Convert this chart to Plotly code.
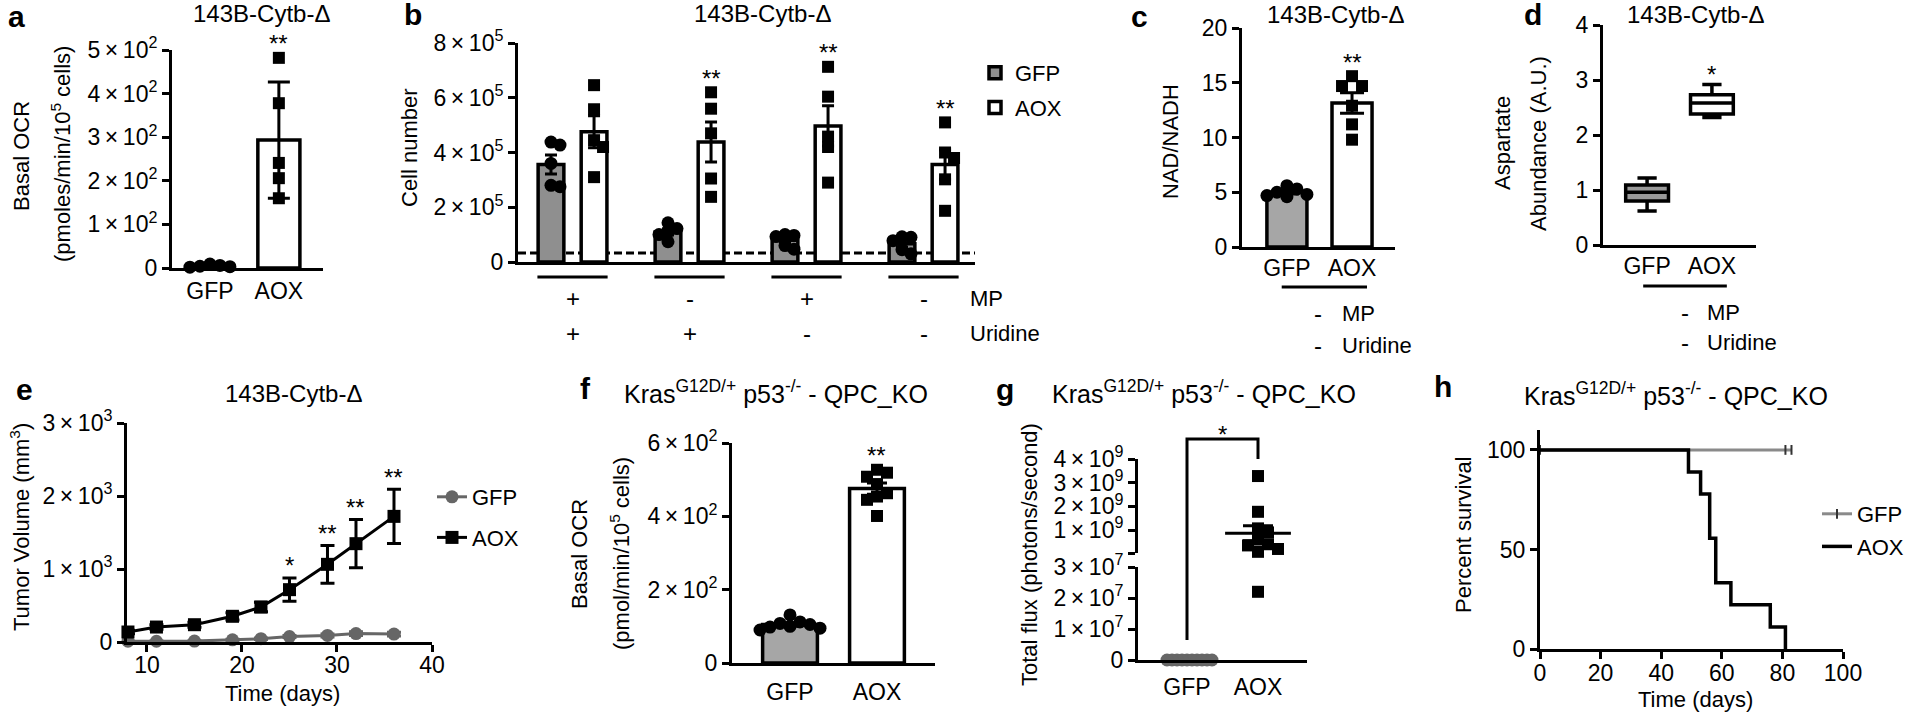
import plotly.graph_objects as go

W, H = 1920, 713
FONT = "Liberation Sans, Arial, Helvetica, sans-serif"
INK = "black"

# ---------------- data ----------------
# a: basal OCR 143B-Cytb-delta (pmoles/min/10^5 cells), mean +/- SD
a_gfp = [9, 6, 4, 3, 2]
a_aox = [482, 378, 241, 206, 160]

# b: cell number (x10^5), mean +/- SEM
b_mp = ["+", "-", "+", "-"]
b_uridine = ["+", "+", "-", "-"]
b_gfp = [[4.38, 4.27, 3.6, 2.8, 2.75],
         [1.43, 1.22, 1.1, 1.0, 0.74],
         [1.0, 0.97, 0.93, 0.6, 0.47],
         [0.92, 0.9, 0.78, 0.45, 0.3]]
b_aox = [[6.46, 5.58, 4.45, 4.2, 3.1],
         [6.2, 5.6, 4.7, 3.05, 2.38],
         [7.13, 6.04, 4.58, 4.2, 2.9],
         [5.1, 4.0, 3.8, 3.02, 1.87]]
b_sig = ["", "**", "**", "**"]
b_seeded = 0.33  # x10^5, dashed line

# c: NAD/NADH
c_gfp = [5.6, 5.3, 5.0, 4.8, 4.7, 4.6]
c_aox = [15.6, 14.7, 14.7, 12.9, 11.2, 9.8]

# d: aspartate abundance, box = (min, q1, median, q3, max)
d_gfp = [0.62, 0.80, 0.96, 1.09, 1.22]
d_aox = [2.32, 2.38, 2.58, 2.73, 2.92]

# e: tumour volume (mm3)
e_days = [8, 11, 15, 19, 22, 25, 29, 32, 36]
e_gfp = [10, 10, 12, 30, 45, 75, 90, 115, 108]
e_gfp_err = [4, 4, 5, 8, 10, 14, 20, 25, 25]
e_aox = [137, 205, 237, 352, 479, 717, 1064, 1347, 1721]
e_aox_err = [25, 30, 35, 50, 65, 160, 258, 330, 372]
e_sig = ["", "", "", "", "", "*", "**", "**", "**"]

# f: basal OCR Kras/p53 QPC_KO (pmol/min/10^5 cells)
f_gfp = [131, 112, 108, 105, 100, 98, 95, 90]
f_aox = [527, 519, 508, 488, 463, 454, 445, 401]

# g: total flux (photons/second)
g_gfp = [0, 0, 0, 0, 0, 0, 0, 0, 0, 0]
g_aox = [3.28e9, 1.77e9, 1.07e9, 0.9e9, 0.6e9, 0.4e9, 0.35e9, 0.2e9, 0.08e9, 2.2e7]
g_break = 3e7

# h: survival
h_gfp_t = [0, 81, 83]
h_gfp_s = [100, 100, 100]
h_aox_t = [0, 49, 53, 56, 58, 63, 76, 81]
h_aox_s = [100, 88.9, 77.8, 55.6, 33.3, 22.2, 11.1, 0]

TITLE_A = "143B-Cytb-\u0394"
TITLE_K = "Kras<sup>G12D/+</sup> p53<sup>-/-</sup> - QPC_KO"

TICK = 23
LAB = 22


def px(x):
    return x / W


def py(y):
    return 1 - y / H


def sci(v, e):
    m = v / 10 ** e
    return "0" if v == 0 else f"{m:g}\u2009\u00d7\u200910<sup>{e}</sup>"


def mean(v):
    return sum(v) / len(v)


def spread(v, sd=False):
    m = mean(v)
    s = (sum((x - m) ** 2 for x in v) / (len(v) - 1)) ** 0.5
    return s if sd else s / len(v) ** 0.5


def swarm(vals, ypu, xpu, gap=10.0):
    # horizontal offsets so that markers with close values sit side by side
    placed, offs = [], []
    for v in vals:
        for k in [0, 1, -1, 2, -2, 3, -3, 4, -4, 5, -5, 6, -6]:
            o = k * gap
            if all(abs((v - pv) * ypu) >= gap or abs(o - po) >= gap - 1e-9 for pv, po in placed):
                break
        placed.append((v, o))
        offs.append(o / xpu)
    return offs


fig = go.Figure()
panels = {}
annots = []
shapes = []


def add_axes(key, n, xpx, ypx, xr, yr, xkw=None, ykw=None):
    xn = "x" if n == 1 else f"x{n}"
    yn = "y" if n == 1 else f"y{n}"
    base = dict(showline=True, linecolor=INK, linewidth=3, showgrid=False, zeroline=False,
                ticks="outside", ticklen=7, tickwidth=3, tickcolor=INK, automargin=False,
                tickfont=dict(family=FONT, size=TICK, color=INK), fixedrange=True)
    xa = dict(base, domain=[px(xpx[0]), px(xpx[1])], range=list(xr), anchor=yn)
    ya = dict(base, domain=[py(ypx[1]), py(ypx[0])], range=list(yr), anchor=xn)
    xa.update(xkw or {})
    ya.update(ykw or {})
    fig.update_layout(**{"xaxis" + ("" if n == 1 else str(n)): xa,
                         "yaxis" + ("" if n == 1 else str(n)): ya})
    panels[key] = dict(x=xn, y=yn, xpu=(xpx[1] - xpx[0]) / (xr[1] - xr[0]),
                       ypu=(ypx[1] - ypx[0]) / (yr[1] - yr[0]))


def cat_x(labels=("GFP", "AOX"), standoff=0):
    if labels is None:
        return dict(ticks="", showticklabels=False)
    return dict(ticks="", tickvals=list(range(len(labels))), ticktext=list(labels),
                ticklabelstandoff=standoff)


def sci_y(vals, e):
    return dict(tickvals=vals, ticktext=[sci(v, e) for v in vals])


def bar_points(key, xpos, pts, fill, symbol, width, sd=False, errw=8, name=None,
               legend=None, psize=12, gap=10):
    p = panels[key]
    fig.add_trace(go.Bar(
        x=[xpos], y=[mean(pts)], width=width, name=name or "", showlegend=name is not None,
        legend=legend, legendgroup=(key + (name or "")),
        marker=dict(color=fill, line=dict(color=INK, width=3.5)),
        error_y=dict(type="data", array=[spread(pts, sd)], color=INK, thickness=3, width=errw),
        xaxis=p["x"], yaxis=p["y"]))
    offs = swarm(pts, p["ypu"], p["xpu"], gap)
    fig.add_trace(go.Scatter(
        x=[xpos + o for o in offs], y=pts, mode="markers", showlegend=False, cliponaxis=False,
        marker=dict(symbol=symbol, size=psize, color=INK),
        xaxis=p["x"], yaxis=p["y"]))


def text(x, y, s, size=LAB, xref="paper", yref="paper", xanchor="center", yanchor="middle",
         angle=0, yshift=0, bold=False):
    # x / y given in window pixels when the reference is "paper"
    if xref == "paper":
        x = px(x)
    if yref == "paper":
        y = py(y)
    annots.append(dict(x=x, y=y, xref=xref, yref=yref, text=f"<b>{s}</b>" if bold else s,
                       showarrow=False, xanchor=xanchor, yanchor=yanchor, textangle=angle,
                       yshift=yshift, font=dict(family=FONT, size=size, color=INK)))


def star(key, x, y, s, yshift=14):
    p = panels[key]
    text(x, y, s, size=24, xref=p["x"], yref=p["y"], yshift=yshift)


def hline(key, x0, x1, ypx):
    shapes.append(dict(type="line", xref=panels[key]["x"], yref="paper", x0=x0, x1=x1,
                       y0=py(ypx), y1=py(ypx), line=dict(color=INK, width=3)))


# ---------------- axes ----------------
add_axes("a", 1, (172, 323), (50, 268), (-0.55, 1.64), (0, 500),
         cat_x(standoff=0), sci_y([0, 100, 200, 300, 400, 500], 2))
add_axes("b", 2, (518, 975), (43, 262), (-0.466, 3.44), (0, 8e5),
         cat_x(None), sci_y([0, 2e5, 4e5, 6e5, 8e5], 5))
add_axes("c", 3, (1242, 1395), (28, 247), (-0.69, 1.66), (0, 20),
         cat_x(standoff=-2), dict(tickvals=[0, 5, 10, 15, 20]))
add_axes("d", 4, (1603, 1756), (25, 245), (-0.68, 1.68), (0, 4),
         cat_x(standoff=-2), dict(tickvals=[0, 1, 2, 3, 4]))
add_axes("e", 5, (127, 432), (423, 642), (7.9, 40), (0, 3000),
         dict(tickvals=[10, 20, 30, 40], ticklabelstandoff=-7), sci_y([0, 1000, 2000, 3000], 3))
add_axes("f", 6, (732, 935), (443, 663), (-0.667, 1.667), (0, 600),
         cat_x(standoff=6), sci_y([0, 200, 400, 600], 2))
add_axes("gl", 7, (1138, 1307), (567, 660), (-0.69, 1.69), (0, g_break),
         cat_x(standoff=4), sci_y([0, 1e7, 2e7, 3e7], 7))
add_axes("gu", 8, (1138, 1307), (459, 553), (-0.69, 1.69), (g_break, 4e9),
         dict(visible=False, matches="x7"),
         dict(tickvals=[g_break, 1e9, 2e9, 3e9, 4e9],
              ticktext=[""] + [sci(v, 9) for v in [1e9, 2e9, 3e9, 4e9]]))
add_axes("h", 9, (1540, 1843), (430, 649), (0, 100), (0, 110),
         dict(tickvals=[0, 20, 40, 60, 80, 100], ticklabelstandoff=-6), dict(tickvals=[0, 50, 100]))

GREY_B = "#8f8f8f"
GREY_C = "#a6a6a6"

# ---------------- a ----------------
bar_points("a", 0, a_gfp, "white", "circle", 0.61, sd=True, errw=11, psize=13)
bar_points("a", 1, a_aox, "white", "square", 0.61, sd=True, errw=11)
star("a", 1, max(a_aox), "**")

# ---------------- b ----------------
off = 0.184
for g in range(4):
    bar_points("b", g - off, [v * 1e5 for v in b_gfp[g]], GREY_B, "circle", 0.22, errw=6,
               name="GFP" if g == 0 else None, legend="legend3", psize=13, gap=9)
    bar_points("b", g + off, [v * 1e5 for v in b_aox[g]], "white", "square", 0.22, errw=6,
               name="AOX" if g == 0 else None, legend="legend3", gap=9)
    if b_sig[g]:
        star("b", g + off, max(b_aox[g]) * 1e5, b_sig[g])
    hline("b", g - 0.3, g + 0.3, 277)
    text(g, 298, b_mp[g], size=24, xref="x2")
    text(g, 333, b_uridine[g], size=24, xref="x2")
shapes.append(dict(type="line", xref="x2 domain", yref="y2", x0=0, x1=1,
                   y0=b_seeded * 1e5, y1=b_seeded * 1e5, layer="below",
                   line=dict(color=INK, width=3, dash="8px,4px")))
text(968, 298, "MP", xanchor="left")
text(968, 333, "Uridine", xanchor="left")

# ---------------- c ----------------
bar_points("c", 0, c_gfp, GREY_C, "circle", 0.615, errw=12, psize=13)
bar_points("c", 1, c_aox, "white", "square", 0.615, errw=12)
star("c", 1, max(c_aox), "**")
hline("c", -0.08, 1.23, 287)
text(1318, 313, "-", size=24)
text(1340, 313, "MP", xanchor="left")
text(1318, 345, "-", size=24)
text(1340, 345, "Uridine", xanchor="left")

# ---------------- d ----------------
for i, (q, fill) in enumerate([(d_gfp, "#999999"), (d_aox, "white")]):
    fig.add_trace(go.Box(
        x=[i], lowerfence=[q[0]], q1=[q[1]], median=[q[2]], q3=[q[3]], upperfence=[q[4]],
        width=0.66, whiskerwidth=0.45, fillcolor=fill, line=dict(color=INK, width=3.5),
        boxpoints=False, showlegend=False, xaxis="x4", yaxis="y4"))
star("d", 1, d_aox[4], "*", yshift=10)
hline("d", -0.06, 1.23, 286)
text(1685, 312, "-", size=24)
text(1705, 312, "MP", xanchor="left")
text(1685, 343, "-", size=24)
text(1705, 343, "Uridine", xanchor="left")

# ---------------- e ----------------
for name, vals, err, col, sym in [("GFP", e_gfp, e_gfp_err, "#666666", "circle"),
                                  ("AOX", e_aox, e_aox_err, INK, "square")]:
    fig.add_trace(go.Scatter(
        x=e_days, y=vals, name=name, mode="lines+markers", legend="legend", legendgroup="e" + name,
        line=dict(color=col, width=3), marker=dict(symbol=sym, size=13, color=col),
        error_y=dict(type="data", array=err, color=col, thickness=3, width=7),
        cliponaxis=False, xaxis="x5", yaxis="y5"))
for d, v, e, s in zip(e_days, e_aox, e_aox_err, e_sig):
    if s:
        star("e", d, v + e, s, yshift=12)

# ---------------- f ----------------
bar_points("f", 0, f_gfp, GREY_C, "circle", 0.63, errw=10, psize=13)
bar_points("f", 1, f_aox, "white", "square", 0.63, errw=10)
star("f", 1, max(f_aox), "**")

# ---------------- g ----------------
pu, pl = panels["gu"], panels["gl"]
offs = swarm(g_gfp, pl["ypu"], pl["xpu"], 5)
fig.add_trace(go.Scatter(x=offs, y=g_gfp, mode="markers", showlegend=False, cliponaxis=False,
                         marker=dict(symbol="circle", size=13, color="#666666"),
                         xaxis="x7", yaxis="y7"))
hi = [v for v in g_aox if v >= g_break]
lo = [v for v in g_aox if v < g_break]
oh = swarm(hi, pu["ypu"], pu["xpu"], 10)
ol = swarm(lo, pl["ypu"], pl["xpu"], 10)
fig.add_trace(go.Scatter(x=[1 + o for o in oh], y=hi, mode="markers", showlegend=False,
                         cliponaxis=False, marker=dict(symbol="square", size=12, color=INK),
                         xaxis="x8", yaxis="y8"))
fig.add_trace(go.Scatter(x=[1 + o for o in ol], y=lo, mode="markers", showlegend=False,
                         cliponaxis=False, marker=dict(symbol="square", size=12, color=INK),
                         xaxis="x7", yaxis="y7"))
fig.add_trace(go.Scatter(x=[1], y=[mean(g_aox)], mode="markers", showlegend=False, cliponaxis=False,
                         marker=dict(symbol="line-ew", size=47, line=dict(color=INK, width=3)),
                         error_y=dict(type="data", array=[spread(g_aox)], color=INK, thickness=3,
                                      width=15),
                         xaxis="x8", yaxis="y8"))
shapes.append(dict(type="path", xref="x8", yref="paper",
                   path=f"M 0,{py(640)} L 0,{py(439)} L 1,{py(439)} L 1,{py(459)}",
                   line=dict(color=INK, width=3)))
text(0.5, 434, "*", size=24, xref="x8")

# ---------------- h ----------------
fig.add_trace(go.Scatter(x=h_gfp_t, y=h_gfp_s, name="GFP", mode="lines+markers", line_shape="hv",
                         legend="legend2", legendgroup="hGFP", cliponaxis=False,
                         line=dict(color="#8a8a8a", width=3),
                         marker=dict(symbol="line-ns", size=7, line=dict(color="#333333", width=2)),
                         xaxis="x9", yaxis="y9"))
fig.add_trace(go.Scatter(x=h_aox_t, y=h_aox_s, name="AOX", mode="lines", line_shape="hv",
                         legend="legend2", legendgroup="hAOX", cliponaxis=False,
                         line=dict(color=INK, width=3.5), xaxis="x9", yaxis="y9"))

# ---------------- titles, panel letters, axis labels ----------------
for x, y, s in [(261, 14, TITLE_A), (762, 14, TITLE_A), (1335, 15, TITLE_A),
                (1695, 15, TITLE_A), (293, 393, TITLE_A)]:
    text(x, y, s, size=24)
for x, y in [(622, 392), (1050, 392), (1522, 394)]:
    text(x, y, TITLE_K, size=25, xanchor="left")
for x, y, s in [(16, 16, "a"), (413, 15, "b"), (1139, 16, "c"), (1533, 15, "d"),
                (24, 389, "e"), (585, 388, "f"), (1005, 389, "g"), (1443, 387, "h")]:
    text(x, y, s, size=30, bold=True)
for x, y, s in [(21, 156, "Basal OCR"), (61, 154, "(pmoles/min/10<sup>5</sup> cells)"),
                (409, 148, "Cell number"), (1171, 142, "NAD/NADH"),
                (1503, 143, "Aspartate"), (1538, 144, "Abundance (A.U.)"),
                (20, 527, "Tumor Volume (mm<sup>3</sup>)"),
                (579, 554, "Basal OCR"), (620, 554, "(pmol/min/10<sup>5</sup> cells)"),
                (1029, 555, "Total flux (photons/second)"), (1463, 535, "Percent survival")]:
    text(x, y, s, size=LAB, angle=-90)
text(282, 693, "Time (days)", size=LAB)
text(1695, 699, "Time (days)", size=LAB)

LEG = dict(bgcolor="rgba(0,0,0,0)", borderwidth=0, xanchor="left", yanchor="top",
           traceorder="grouped", font=dict(family=FONT, size=LAB, color=INK))
fig.update_layout(
    width=W, height=H, margin=dict(l=0, r=0, t=0, b=0, autoexpand=False), autosize=False,
    plot_bgcolor="white", paper_bgcolor="white", barmode="overlay",
    font=dict(family=FONT, color=INK), showlegend=True,
    legend=dict(LEG, x=px(432), y=py(476), tracegroupgap=9),
    legend2=dict(LEG, x=px(1817), y=py(493), tracegroupgap=1),
    legend3=dict(LEG, x=px(975), y=py(52), tracegroupgap=3),
    annotations=annots, shapes=shapes,
)

# the page body has a default 8px margin; drop it so the figure fills the window
fig.write_html("out.html", config={"displayModeBar": False},
               post_script="document.body.style.margin = '0';")
